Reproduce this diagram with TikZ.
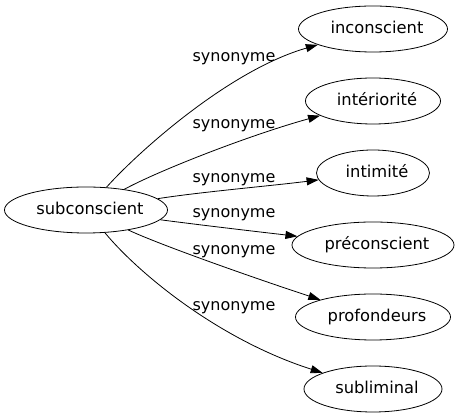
\documentclass[tikz,border=0pt]{standalone}
\usepackage{fontspec}
\setmainfont{DejaVu Sans}
\usepackage{tikz}
\usetikzlibrary{shapes.geometric, arrows.meta}
\tikzstyle{wordGraph} = [x = 1pt, y = -1pt, line width = .8pt]
\tikzstyle{wordStyle} = [draw, ellipse, inner sep = 0pt, minimum height = 46pt, text height = 12pt, text depth = 3.5pt, font = \fontsize{16.3}{19}\selectfont]
\tikzstyle{synonymText} = [anchor = base, inner sep = 0pt, font = \fontsize{16}{19}\selectfont]
\tikzstyle{synonymLine} = [-{Triangle[length = 12pt, width = 8pt]}]
\newcommand{\textShift}{8pt}
\newcommand{\wordNode}[5]{\node [wordStyle, minimum width = #4pt] (#1) at (#2, #3) {\hspace*{\textShift}#5};}
\newcommand{\synonymEdge}[5]{
  \draw [synonymLine] (subconscient) .. controls (#2) and (#3) .. (#1);
  \node [synonymText] (#4) at (234, #5) {synonyme};
}

\begin{document}
\begin{tikzpicture}[wordGraph]
  \useasboundingbox (0, 0) rectangle (459, 419);
  \wordNode{subconscient}{86}{210}{163}{subconscient}
  \wordNode{inconscient}{373}{29}{149}{inconscient}
  \wordNode{interiorite}{373}{101}{135}{intériorité}
  \wordNode{intimite}{373}{173}{113}{intimité}
  \wordNode{preconscient}{373}{245}{162}{préconscient}
  \wordNode{profondeurs}{373}{317}{155}{profondeurs}
  \wordNode{subliminal}{373}{389}{138}{subliminal}

  \synonymEdge{inconscient}{140, 150}{230, 70}{labelInconscient}{62}
  \synonymEdge{interiorite}{160, 170}{250, 135}{labelInteriorite}{129}
  \synonymEdge{intimite}{200, 192}{270, 186}{labelIntimite}{183}
  \synonymEdge{preconscient}{200, 225}{260, 232}{labelPreconscient}{218}
  \synonymEdge{profondeurs}{160, 245}{260, 280}{labelProfondeurs}{255}
  \synonymEdge{subliminal}{140, 275}{220, 340}{labelSubliminal}{311}
\end{tikzpicture}
\end{document}
